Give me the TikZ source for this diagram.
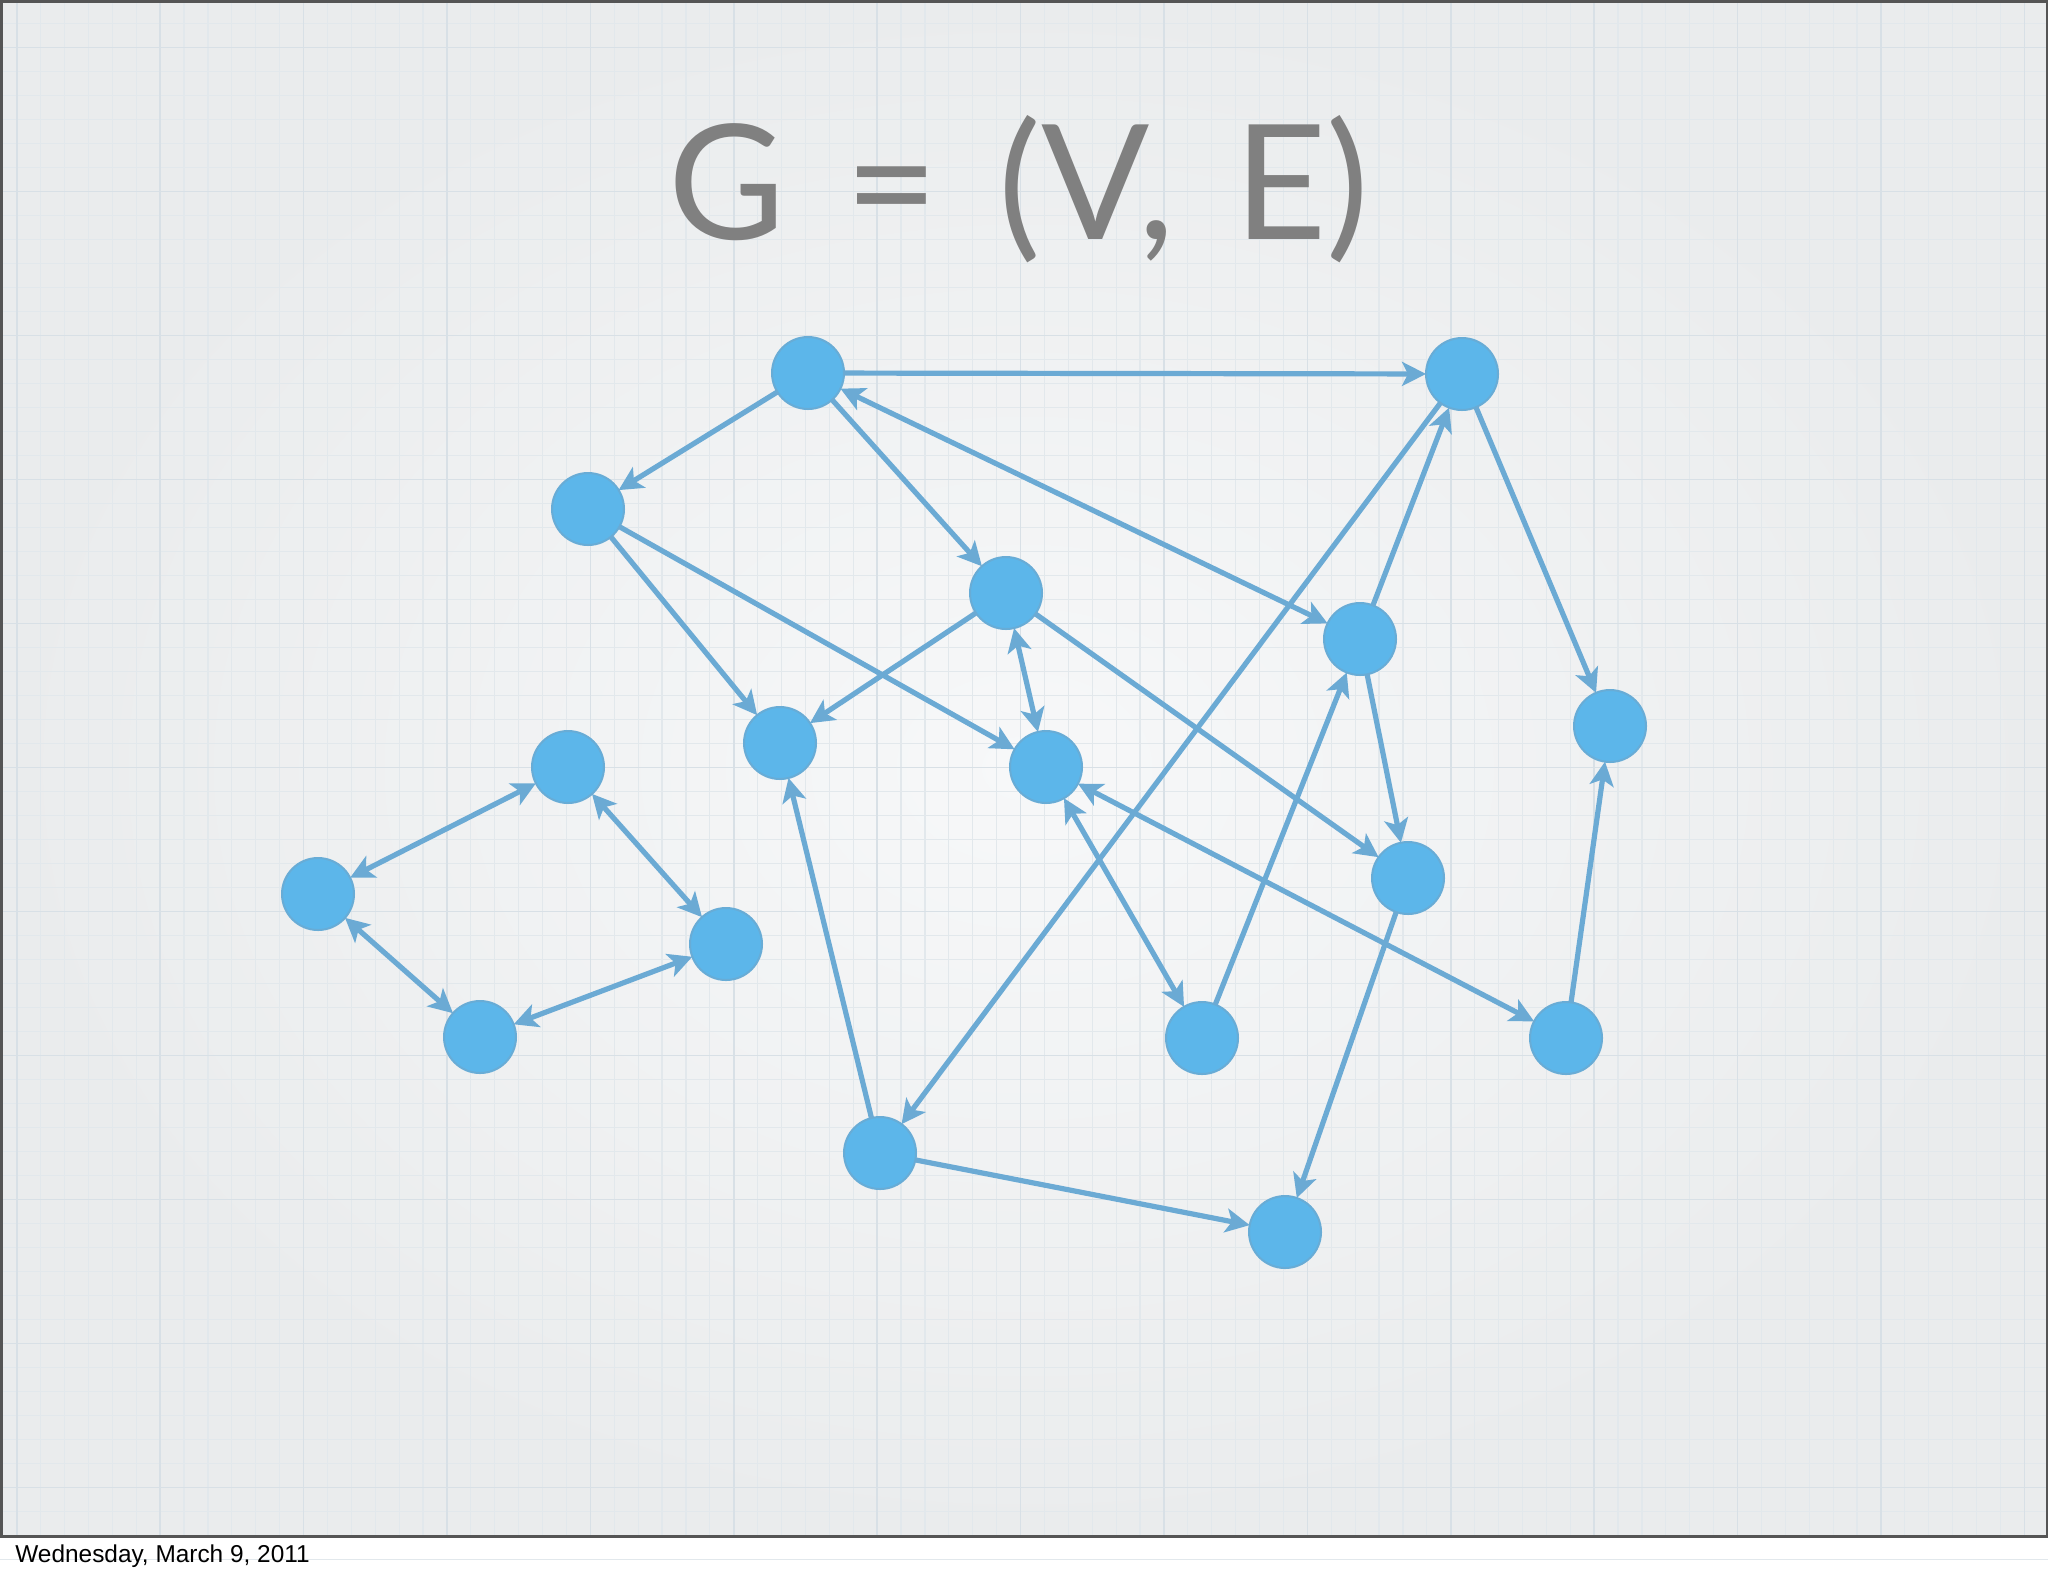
\documentclass[tikz,border=0pt]{standalone}
\usepackage{fontspec}
\setmainfont{Liberation Sans}
\newfontfamily\titlefont{Lato}
\usetikzlibrary{arrows.meta}
\definecolor{edgec}{RGB}{107,170,212}
\definecolor{nodefill}{RGB}{92,182,234}
\definecolor{nodeedge}{RGB}{104,172,214}
\definecolor{titlegray}{RGB}{128,128,128}
\definecolor{gridminor}{RGB}{226,232,236}
\definecolor{gridmajor}{RGB}{216,224,230}
\definecolor{bginner}{RGB}{247,248,249}
\definecolor{bgouter}{RGB}{234,236,237}
\definecolor{framec}{RGB}{85,85,85}
\begin{document}
\begin{tikzpicture}[x=0.5pt,y=-0.5pt,
  >={Stealth[length=12pt,width=12pt,inset=3pt]},
  vtx/.style={circle,fill=nodefill,draw=nodeedge,line width=1pt,minimum size=36pt,inner sep=0pt,outer sep=0pt},
  link/.style={draw=edgec,line width=2.6pt,->},
  blink/.style={draw=edgec,line width=2.6pt,<->},
  minorline/.style={draw=gridminor,line width=0.6pt},
  majorline/.style={draw=gridmajor,line width=0.8pt}]
\useasboundingbox (0,0) rectangle (2048,1576);
\fill[white] (0,0) rectangle (2048,1576);
\shade[inner color=bginner,outer color=bgouter] (0,0) rectangle (2048,1536);
\foreach \i in {0,...,85} {\draw[minorline] ({16.7+23.9*\i},0) -- ({16.7+23.9*\i},1536);}
\foreach \i in {0,...,64} {\draw[minorline] (0,{23.3+24*\i}) -- (2048,{23.3+24*\i});}
\foreach \i in {0,...,14} {\draw[majorline] ({16.7+143.4*\i},0) -- ({16.7+143.4*\i},1536);}
\foreach \i in {0,...,10} {\draw[majorline] (0,{47.3+144*\i}) -- (2048,{47.3+144*\i});}
\draw[framec,line width=1.5pt] (1,1) rectangle (2047,1536);

\node[anchor=base west,inner sep=0pt,text=titlegray,font=\titlefont\fontsize{80pt}{90pt}\selectfont] (title) at (668,239)
  {G\hspace{30pt}=\hspace{30pt}(V,\hspace{30pt}E)};
\node[anchor=base west,inner sep=0pt,font=\fontsize{12.2pt}{14pt}\selectfont] (date) at (15,1562) {Wednesday, March 9, 2011};

\node[vtx] (A) at (808,373) {};
\node[vtx] (B) at (1462,374) {};
\node[vtx] (C) at (588,509) {};
\node[vtx] (D) at (1006,593) {};
\node[vtx] (E) at (1360,639) {};
\node[vtx] (F) at (1610,726) {};
\node[vtx] (G) at (780,743) {};
\node[vtx] (H) at (1046,767) {};
\node[vtx] (I) at (568,767) {};
\node[vtx] (J) at (318,894) {};
\node[vtx] (K) at (726,944) {};
\node[vtx] (L) at (1408,878) {};
\node[vtx] (M) at (480,1037) {};
\node[vtx] (N) at (1202,1038) {};
\node[vtx] (O) at (1566,1038) {};
\node[vtx] (P) at (880,1153) {};
\node[vtx] (Q) at (1285,1232) {};

\draw[link] (A) -- (B);
\draw[link] (A) -- (C);
\draw[link] (A) -- (D);
\draw[blink] (A) -- (E);
\draw[link] (C) -- (G);
\draw[link] (C) -- (H);
\draw[link] (D) -- (G);
\draw[blink] (D) -- (H);
\draw[link] (D) -- (L);
\draw[link] (B) -- (P);
\draw[link] (E) -- (B);
\draw[link] (B) -- (F);
\draw[link] (N) -- (E);
\draw[link] (E) -- (L);
\draw[blink] (H) -- (N);
\draw[blink] (H) -- (O);
\draw[link] (O) -- (F);
\draw[link] (L) -- (Q);
\draw[link] (P) -- (G);
\draw[link] (P) -- (Q);
\draw[blink] (I) -- (J);
\draw[blink] (I) -- (K);
\draw[blink] (J) -- (M);
\draw[blink] (M) -- (K);
\end{tikzpicture}
\end{document}
